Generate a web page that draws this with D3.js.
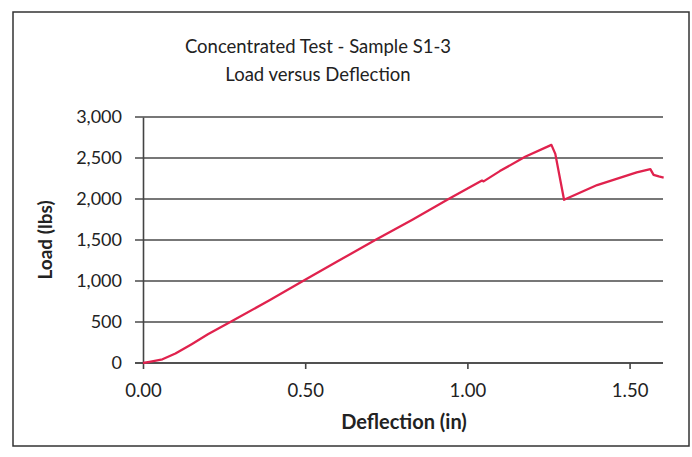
<!DOCTYPE html>
<html>
<head>
<meta charset="utf-8">
<script src="https://cdn.jsdelivr.net/npm/d3@7"></script>
<style>
  body { margin: 0; background: #fff; }
  text { font-family: Lato, "Open Sans", sans-serif; fill: #222; }
</style>
</head>
<body>
<div id="chart"></div>
<script>
// deflection (in) / load (lbs)
const deflection = [0, 0.02, 0.04, 0.06, 0.10, 0.15, 0.20, 0.269, 0.39, 0.489, 0.60, 0.716, 0.829, 0.942, 1.045, 1.05, 1.10, 1.178, 1.259, 1.271, 1.298, 1.40, 1.522, 1.564, 1.574, 1.59, 1.605];
const load = [0, 15, 30, 45, 115, 230, 350, 500, 765, 990, 1240, 1500, 1745, 2000, 2225, 2215, 2340, 2515, 2660, 2550, 1990, 2170, 2325, 2365, 2295, 2275, 2262];
const xTicks = [0, 0.5, 1.0, 1.5];
const yTicks = [0, 500, 1000, 1500, 2000, 2500, 3000];
const titleLines = ["Concentrated Test - Sample S1-3", "Load versus Deflection"];

const width = 692, height = 457;
const margin = {left: 143, right: 29, top: 117, bottom: 94};

const svg = d3.select("#chart").append("svg")
    .attr("width", width)
    .attr("height", height);

// outer chart frame
svg.append("rect")
    .attr("x", 13).attr("y", 12)
    .attr("width", 676).attr("height", 434)
    .attr("fill", "none")
    .attr("stroke", "#333")
    .attr("stroke-width", 1.5);

const x = d3.scaleLinear().domain([0, 1.603]).range([margin.left, width - margin.right]);
const y = d3.scaleLinear().domain([0, 3000]).range([height - margin.bottom, margin.top]);

// gridlines
svg.append("g")
    .selectAll("line")
    .data(yTicks)
    .join("line")
    .attr("x1", x(0) - 8).attr("x2", x.range()[1])
    .attr("y1", d => y(d)).attr("y2", d => y(d))
    .attr("stroke", "#4a4a4a")
    .attr("stroke-width", 1.6);

// y axis
const yAxis = svg.append("g")
    .attr("transform", `translate(${x(0)},0)`)
    .call(d3.axisLeft(y).tickValues(yTicks).tickFormat(d3.format(",")).tickSize(0).tickPadding(21));
yAxis.select(".domain").attr("stroke", "#444").attr("stroke-width", 1.6);
yAxis.selectAll("text").style("font-size", "18px").attr("fill", "#222");

// x axis
const xAxis = svg.append("g")
    .attr("transform", `translate(0,${y(0)})`)
    .call(d3.axisBottom(x).tickValues(xTicks).tickFormat(d3.format(".2f")).tickSize(6).tickPadding(15));
xAxis.select(".domain").attr("stroke", "#444").attr("stroke-width", 1.6).attr("d", `M${x(0) - 8},0H${x.range()[1]}`);
xAxis.selectAll(".tick line").attr("stroke", "#444").attr("stroke-width", 1.6);
xAxis.selectAll("text").style("font-size", "18.5px").attr("fill", "#222");

// data line
const line = d3.line()
    .x((d, i) => x(deflection[i]))
    .y(d => y(d));

svg.append("path")
    .datum(load)
    .attr("d", line)
    .attr("fill", "none")
    .attr("stroke", "#e0224d")
    .attr("stroke-width", 2.3)
    .attr("stroke-linejoin", "round");

// titles
svg.append("g")
    .selectAll("text")
    .data(titleLines)
    .join("text")
    .attr("x", 318)
    .attr("y", (d, i) => 53 + i * 28)
    .attr("text-anchor", "middle")
    .style("font-size", "18.5px")
    .text(d => d);

svg.append("text")
    .attr("x", 404).attr("y", 429)
    .attr("text-anchor", "middle")
    .style("font-size", "20px")
    .style("font-weight", "bold")
    .text("Deflection (in)");

svg.append("text")
    .attr("transform", "translate(52,240) rotate(-90)")
    .attr("text-anchor", "middle")
    .style("font-size", "19px")
    .style("font-weight", "bold")
    .text("Load (lbs)");
</script>
</body>
</html>
